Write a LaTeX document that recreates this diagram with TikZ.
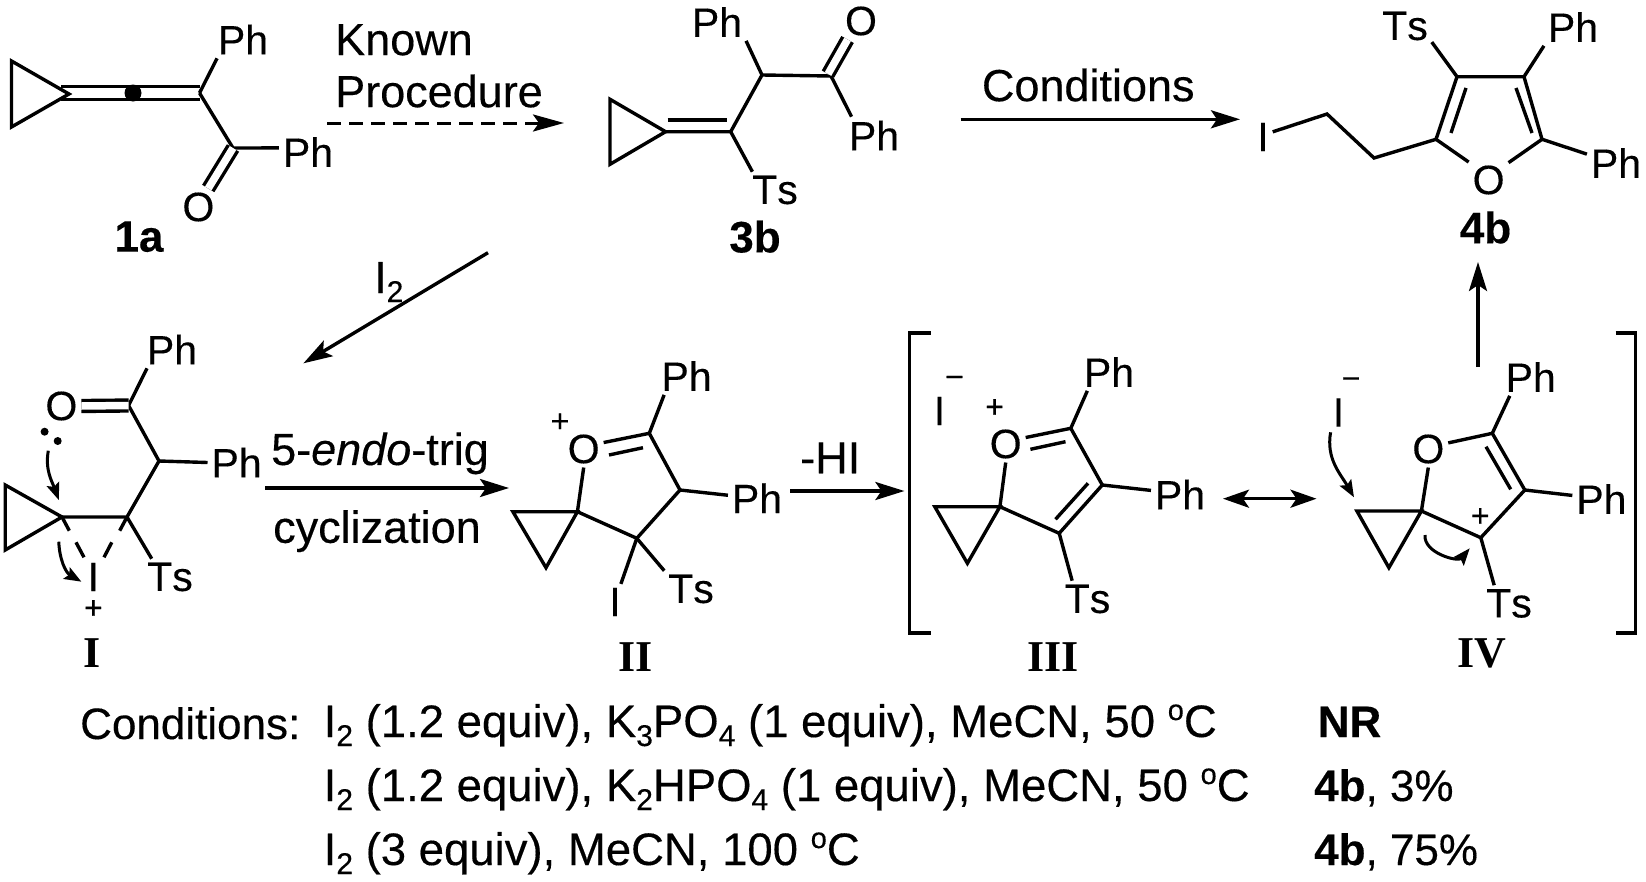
\documentclass[tikz,border=0pt]{standalone}
\usepackage{fontspec}
\usepackage{tikz}
\usetikzlibrary{shapes,arrows,arrows.meta,positioning}
\setmainfont{Liberation Sans}[Kerning=Off,FakeBold=0.3]
\newfontfamily\romanfont{Liberation Serif}
\newcommand{\atomfont}{\fontsize{41}{46}\selectfont}
\newcommand{\wordfont}{\fontsize{45}{52}\selectfont}
\newcommand{\rowfont}{\fontsize{45.5}{52}\selectfont}
\newcommand{\cpdfont}{\fontsize{44}{52}\selectfont}
\newcommand{\chargefont}{\fontsize{32}{36}\selectfont}
\newcommand{\lowsub}[1]{\raisebox{-9pt}{\fontsize{30}{30}\selectfont #1}}
\newcommand{\highdeg}[1]{\raisebox{17pt}{\fontsize{29}{30}\selectfont #1}}

\begin{document}
\begin{tikzpicture}[x=1pt,y=-1pt]
    \tikzstyle{atom} = [inner sep=0pt, outer sep=4pt, font=\atomfont]
    \tikzstyle{txt} = [inner sep=0pt, font=\wordfont]
    \tikzstyle{charge} = [inner sep=0pt, font=\chargefont]
    \tikzstyle{cpd} = [inner sep=0pt, font=\cpdfont\bfseries]
    \tikzstyle{roman} = [inner sep=0pt, font=\romanfont\cpdfont\bfseries]
    \tikzstyle{dot} = [circle, fill=black, inner sep=0pt, minimum size=8pt]
    \tikzstyle{bond} = [line width=3.4pt]
    \tikzstyle{dbond} = [line width=3.4pt, double, double distance=7.5pt]
    \tikzstyle{arrow} = [line width=3.4pt, -{Stealth[length=29pt,width=18pt,inset=6pt]}]
    \tikzstyle{dasharrow} = [line width=3pt, dash pattern=on 14pt off 8pt, -{Stealth[length=31pt,width=17pt,inset=6pt]}]
    \tikzstyle{twoway} = [line width=3.4pt, {Stealth[length=26pt,width=18pt,inset=6pt]}-{Stealth[length=26pt,width=18pt,inset=6pt]}]
    \tikzstyle{curly} = [line width=3pt, -{Stealth[length=17pt,width=13pt,inset=3pt]}]
    \useasboundingbox (0,0) rectangle (1646,881);

    % 1a
    \coordinate (acp1) at (11.5,61);
    \coordinate (acp2) at (11.5,127);
    \coordinate (acp3) at (69,94);
    \coordinate (acs) at (61,93);
    \coordinate (acc) at (199.5,93);
    \coordinate (aco) at (233,148);
    \node [atom] (aph1) at (243,39.5) {Ph};
    \node [atom] (aph2) at (308,152) {Ph};
    \node [atom] (ao) at (198.4,207) {O};
    \node [cpd] (lab1a) at (139,236.7) {1a};
    \draw [line width=3.4pt, double, double distance=9.5pt] (acs) -- (acc);
    \draw [bond] (acp1) -- (acp3) -- (acp2) -- cycle;
    \node [dot, minimum size=17pt] (adot) at (133,93) {};
    \draw [bond] (acc) -- (aph1.-144);
    \draw [bond] (acc) -- (aco) -- (aph2.172);
    \draw [dbond] (aco) -- (ao.62);

    % known procedure
    \node [txt, align=left, anchor=north west] (known) at (335,24) {Known\\Procedure};
    \coordinate (ks) at (327,123);
    \coordinate (ke) at (564,123);
    \draw [dasharrow] (ks) -- (ke);

    % 3b
    \coordinate (bcp1) at (610,99.3);
    \coordinate (bcp2) at (610,164.3);
    \coordinate (bcp3) at (665.6,131.7);
    \coordinate (bc1) at (730.7,131.7);
    \coordinate (bi1) at (667.7,120);
    \coordinate (bi2) at (727,120);
    \coordinate (bc2) at (762,75);
    \coordinate (bc3) at (831,76);
    \coordinate (bc4) at (828,74);
    \node [atom] (bph1) at (717,22) {Ph};
    \node [atom] (bph2) at (874,135.5) {Ph};
    \node [atom] (bts) at (775,190) {Ts};
    \node [atom] (bo) at (861,21) {O};
    \node [cpd] (lab3b) at (755,236.7) {3b};
    \draw [bond] (bcp1) -- (bcp3) -- (bcp2) -- cycle;
    \draw [bond] (bcp3) -- (bc1) -- (bc2) -- (bc3) -- (bph2.140);
    \draw [bond] (bi1) -- (bi2);
    \draw [bond] (bc2) -- (bph1.south east);
    \draw [bond] (bc1) -- (bts.141);
    \draw [dbond] (bc4) -- (bo.-126);

    % conditions
    \coordinate (cs) at (960.5,119.3);
    \coordinate (ce) at (1240,119.3);
    \draw [arrow] (cs) -- (ce) node[txt, midway, above=16pt, xshift=-12pt] (condlab) {Conditions};

    % 4b
    \coordinate (cc1) at (1327,114);
    \coordinate (cc2) at (1374,158);
    \coordinate (cf2) at (1436,139.3);
    \coordinate (cf3) at (1457,76.7);
    \coordinate (cf4) at (1524,76.7);
    \coordinate (cf5) at (1542,139.3);
    \coordinate (ci1) at (1466,88);
    \coordinate (ci2) at (1451,133);
    \coordinate (ci3) at (1516,88);
    \coordinate (ci4) at (1532,133);
    \node [atom] (ci) at (1263,137) {I};
    \node [atom] (cts) at (1405,26) {Ts};
    \node [atom] (cph1) at (1573,27) {Ph};
    \node [atom] (cph2) at (1616,163) {Ph};
    \node [atom] (co) at (1488.6,180) {O};
    \node [cpd] (lab4b) at (1485.5,227.5) {4b};
    \draw [bond] (ci.28) -- (cc1) -- (cc2) -- (cf2) -- (cf3) -- (cf4) -- (cf5) -- (co.41);
    \draw [bond] (cf2) -- (co.138);
    \draw [bond] (ci1) -- (ci2);
    \draw [bond] (ci3) -- (ci4);
    \draw [bond] (cf3) -- (cts.-31);
    \draw [bond] (cf4) -- (cph1.south west);
    \draw [bond] (cf5) -- (cph2.163);

    % I2 arrow
    \coordinate (ds) at (488,252.7);
    \coordinate (de) at (303.4,363.3);
    \draw [arrow] (ds) -- (de);
    \node [txt, anchor=base west] (itwo) at (374,293) {I\lowsub{2}};

    % intermediate I
    \coordinate (dcp1) at (5.2,485);
    \coordinate (dcp2) at (5.2,550);
    \coordinate (dc1) at (62,517);
    \coordinate (dc2) at (127,517);
    \coordinate (dc3) at (159,461);
    \coordinate (dc4) at (128.6,405.5);
    \coordinate (dd1) at (69.3,530.7);
    \coordinate (dd2) at (76,542.3);
    \coordinate (dd3) at (84,557.3);
    \coordinate (dd4) at (119.7,530.7);
    \coordinate (dd5) at (111.8,542.3);
    \coordinate (dd6) at (104,557.3);
    \coordinate (da1) at (48.3,450.7);
    \coordinate (da2) at (58.8,500);
    \coordinate (da3) at (58.8,541.7);
    \coordinate (da4) at (81.4,581.7);
    \node [atom] (do) at (61.4,406) {O};
    \node [atom] (dph1) at (172,349.5) {Ph};
    \node [atom] (dph2) at (236.6,462.5) {Ph};
    \node [atom] (dts) at (170,577) {Ts};
    \node [atom] (di) at (93.4,577) {I};
    \node [charge] (dplus) at (93.4,609.3) {+};
    \node [dot] (dlp1) at (44.6,431.7) {};
    \node [dot] (dlp2) at (57.7,441) {};
    \node [roman] (labI) at (92,653) {I};
    \draw [bond] (dcp1) -- (dc1) -- (dcp2) -- cycle;
    \draw [bond] (dc1) -- (dc2) -- (dc3) -- (dc4) -- (dph1.-143);
    \draw [bond] (dc3) -- (dph2.west);
    \draw [bond] (dc2) -- (dts.135);
    \draw [dbond] (dc4) -- (do.east);
    \draw [bond] (dc1) -- (dd1);
    \draw [bond] (dd2) -- (dd3);
    \draw [bond] (dc2) -- (dd4);
    \draw [bond] (dd5) -- (dd6);
    \draw [curly] (da1) to[out=-100, in=110] (da2);
    \draw [curly] (da3) to[out=-88, in=150] (da4);

    % 5-endo-trig
    \coordinate (es) at (265,488);
    \coordinate (ee) at (509,488);
    \draw [arrow] (es) -- (ee)
        node[txt, midway, above=12pt, xshift=-7pt] (endolab) {5-\emph{endo}-trig}
        node[txt, midway, below=20.5pt, xshift=-10pt] (cyclab) {cyclization};

    % intermediate II
    \coordinate (ecp1) at (512.9,511.7);
    \coordinate (ecp2) at (546,567.7);
    \coordinate (ec1) at (577.4,511.7);
    \coordinate (ec2) at (636.8,538.3);
    \coordinate (ec3) at (680,490);
    \coordinate (ec4) at (649.3,433.3);
    \coordinate (ei1) at (609,455);
    \coordinate (ei2) at (643,447.7);
    \node [atom] (eo) at (583.7,449) {O};
    \node [charge] (eplus) at (560,422.7) {+};
    \node [atom] (eph1) at (686.6,376) {Ph};
    \node [atom] (eph2) at (757,498.3) {Ph};
    \node [atom] (ei) at (615,602) {I};
    \node [atom] (ets) at (691,589) {Ts};
    \node [roman] (labII) at (635.5,657) {II};
    \draw [bond] (ecp1) -- (ec1) -- (ecp2) -- cycle;
    \draw [bond] (eo.south) -- (ec1) -- (ec2) -- (ec3) -- (ec4) -- (eo.18);
    \draw [bond] (ei1) -- (ei2);
    \draw [bond] (ec4) -- (eph1.-140);
    \draw [bond] (ec3) -- (eph2.174);
    \draw [bond] (ec2) -- (ei.72);
    \draw [bond] (ec2) -- (ets.north west);

    % -HI
    \coordinate (hs) at (790,491);
    \coordinate (he) at (904.4,491);
    \draw [arrow] (hs) -- (he) node[txt, midway, above=16pt, xshift=-17pt] (hilab) {-HI};

    % brackets
    \draw [bond] (930.6,333) -- (909.6,333) -- (909.6,633) -- (930.6,633);
    \draw [bond] (1615.7,333) -- (1635.6,333) -- (1635.6,633) -- (1615.7,633);

    % III
    \coordinate (fcp1) at (934.8,506.7);
    \coordinate (fcp2) at (967.4,563.3);
    \coordinate (fc1) at (999.9,506.7);
    \coordinate (fc2) at (1059.2,533.3);
    \coordinate (fc3) at (1102.3,485);
    \coordinate (fc4) at (1070.8,428.3);
    \coordinate (fi1) at (1030.4,449.3);
    \coordinate (fi2) at (1065.5,441.7);
    \coordinate (fi3) at (1088,483.3);
    \coordinate (fi4) at (1055.5,519.3);
    \node [atom] (fo) at (1005.7,444) {O};
    \node [charge] (fplus) at (994.6,408.3) {+};
    \node [atom] (fi) at (939.5,411) {I};
    \node [charge] (fminus) at (954.5,381.7) {−};
    \node [atom] (fph1) at (1109,372) {Ph};
    \node [atom] (fph2) at (1180,494.5) {Ph};
    \node [atom] (fts) at (1087.5,599) {Ts};
    \node [roman] (labIII) at (1053,657) {III};
    \draw [bond] (fcp1) -- (fc1) -- (fcp2) -- cycle;
    \draw [bond] (fo.south) -- (fc1) -- (fc2) -- (fc3) -- (fc4) -- (fo.18);
    \draw [bond] (fi1) -- (fi2);
    \draw [bond] (fi3) -- (fi4);
    \draw [bond] (fc4) -- (fph1.-139);
    \draw [bond] (fc3) -- (fph2.172);
    \draw [bond] (fc2) -- (fts.130);

    % resonance
    \coordinate (rs) at (1223,498.7);
    \coordinate (re) at (1316.5,498.7);
    \draw [twoway] (rs) -- (re);

    % IV
    \coordinate (gcp1) at (1356.9,511);
    \coordinate (gcp2) at (1388.9,567.7);
    \coordinate (gc1) at (1421.4,511);
    \coordinate (gc2) at (1480.8,537.7);
    \coordinate (gc3) at (1524.8,490);
    \coordinate (gc4) at (1492.3,433.3);
    \coordinate (gi1) at (1486,446.7);
    \coordinate (gi2) at (1510.7,489.3);
    \coordinate (ga1) at (1330.6,432.3);
    \coordinate (ga2) at (1354,497.3);
    \coordinate (ga3) at (1425,535);
    \coordinate (ga4) at (1469.7,548.3);
    \node [atom] (go) at (1428.3,449) {O};
    \node [atom] (gi) at (1338.5,412.5) {I};
    \node [charge] (gminus) at (1351,383.3) {−};
    \node [charge] (gplus) at (1480.2,517.3) {+};
    \node [atom] (gph1) at (1530.7,377) {Ph};
    \node [atom] (gph2) at (1601.4,499) {Ph};
    \node [atom] (gts) at (1509,603.5) {Ts};
    \node [roman] (labIV) at (1482,653) {IV};
    \draw [bond] (gcp1) -- (gc1) -- (gcp2) -- cycle;
    \draw [bond] (go.south) -- (gc1) -- (gc2) -- (gc3) -- (gc4) -- (go.17);
    \draw [bond] (gi1) -- (gi2);
    \draw [bond] (gc4) -- (gph1.-138);
    \draw [bond] (gc3) -- (gph2.173);
    \draw [bond] (gc2) -- (gts.129);
    \draw [curly] (ga1) to[out=-100, in=120] (ga2);
    \draw [curly] (ga3) to[out=-95, in=-130] (ga4);

    % to 4b
    \coordinate (us) at (1478,367);
    \coordinate (ue) at (1478,262);
    \draw [arrow] (us) -- (ue);

    % conditions table
    \node [txt, font=\cpdfont, anchor=base west] (rowlab) at (80,739) {Conditions:};
    \node [txt, font=\rowfont, anchor=base west] (rowa) at (323.5,737) {I\lowsub{2} (1.2 equiv), K\lowsub{3}PO\lowsub{4} (1 equiv), MeCN, 50 \highdeg{o}C};
    \node [txt, font=\rowfont, anchor=base west] (rowb) at (323.5,801) {I\lowsub{2} (1.2 equiv), K\lowsub{2}HPO\lowsub{4} (1 equiv), MeCN, 50 \highdeg{o}C};
    \node [txt, font=\rowfont, anchor=base west] (rowc) at (323.5,865) {I\lowsub{2} (3 equiv), MeCN, 100 \highdeg{o}C};
    \node [txt, font=\cpdfont, anchor=base west] (resa) at (1317.5,737) {\textbf{NR}};
    \node [txt, font=\cpdfont, anchor=base west] (resb) at (1314,801) {\textbf{4b}, 3\%};
    \node [txt, font=\cpdfont, anchor=base west] (resc) at (1314,865) {\textbf{4b}, 75\%};
\end{tikzpicture}
\end{document}
